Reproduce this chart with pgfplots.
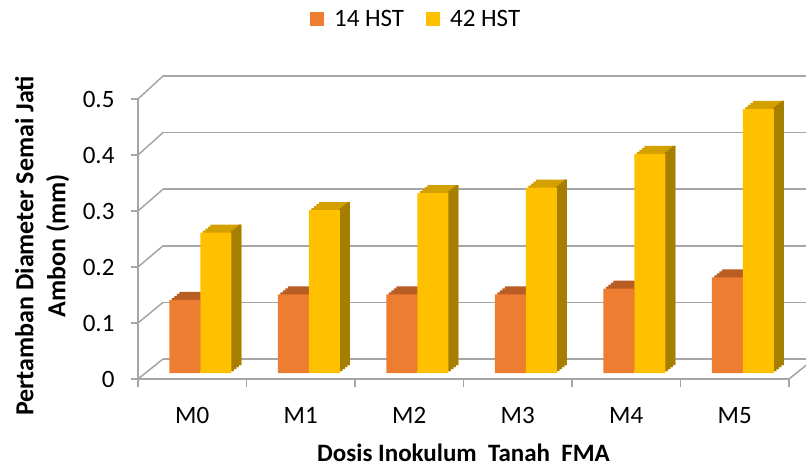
\documentclass[border=0pt]{standalone}
\usepackage{fontspec}
\setmainfont{Carlito}
\usepackage{pgfplots}
\usepackage{pgfplotstable}
\pgfplotsset{compat=1.18}
\definecolor{orF}{RGB}{237,125,49}
\definecolor{orT}{RGB}{184,93,36}
\definecolor{yeF}{RGB}{255,192,0}
\definecolor{yeT}{RGB}{212,160,0}
\definecolor{yeS}{RGB}{166,127,0}
\definecolor{gridc}{RGB}{166,166,166}

\pgfplotstableread{
x v
0 0.13
1 0.14
2 0.14
3 0.14
4 0.15
5 0.17
}\hstA
\pgfplotstableread{
x v
0 0.25
1 0.29
2 0.32
3 0.33
4 0.39
5 0.47
}\hstB

\begin{document}
\begin{tikzpicture}[font=\fontsize{25}{30}\selectfont, x=1pt, y=1pt]
\useasboundingbox (0,0) rectangle (806,467);
\clip (0,0) rectangle (806,467);

% back wall grid
\begin{axis}[at={(163pt,108pt)}, anchor=south west, scale only axis,
  width=651pt, height=283pt, xmin=-0.5, xmax=5.5, ymin=0, ymax=0.5,
  axis line style={draw=none}, xtick=\empty,
  ytick={0,0.1,0.2,0.3,0.4,0.5}, yticklabels={,,,,,},
  yticklabel style={opacity=0}, major tick length=0pt,
  ymajorgrids, grid style={gridc, line width=1.5pt}]
\end{axis}

% left wall and floor diagonals
\foreach \v in {0,0.1,0.2,0.3,0.4,0.5}
  \draw[gridc, line width=1.5pt] (138,{88+560*\v}) -- (163,{108+566*\v});
\draw[gridc, line width=1.5pt] (789,88) -- (814,108);

% front axis
\begin{axis}[at={(138pt,88pt)}, anchor=south west, scale only axis,
  width=651pt, height=280pt, xmin=-0.5, xmax=5.5, ymin=0, ymax=0.5,
  axis x line*=bottom, axis y line*=left,
  axis line style={gridc, line width=1.5pt},
  ytick={0,0.1,0.2,0.3,0.4,0.5}, yticklabels={0,0.1,0.2,0.3,0.4,0.5},
  xtick={0,1,2,3,4,5}, xticklabels={M0,M1,M2,M3,M4,M5},
  minor xtick={-0.5,0.5,1.5,2.5,3.5,4.5,5.5},
  major x tick style={draw=none},
  tick align=outside, major tick length=7pt, minor tick length=8pt,
  tick style={gridc, line width=1.5pt},
  tick label style={font=\fontsize{25}{30}\selectfont},
  yticklabel style={xshift=-13pt},
  xticklabel style={yshift=-18pt},
  xlabel={\textbf{Dosis Inokulum\ \ Tanah\ \ FMA}},
  ylabel={\textbf{Pertamban Diameter Semai Jati}\\\textbf{Ambon (mm)}},
  every axis x label/.style={at={(axis description cs:0.5,-0.264)}, anchor=center},
  every axis y label/.style={at={(axis description cs:-0.147,0.475)}, rotate=90, anchor=center, align=center, font=\fontsize{26}{32}\selectfont}]
\end{axis}

% bars
\begin{axis}[at={(146pt,94pt)}, anchor=south west, scale only axis,
  width=651pt, height=281pt, xmin=-0.5, xmax=5.5, ymin=0, ymax=0.5,
  hide axis, clip=false,
  legend style={at={(axis description cs:0.415,1.26)}, anchor=center,
    draw=none, fill=none, legend columns=2,
    /tikz/every even column/.append style={column sep=20pt},
    font=\fontsize{25}{30}\selectfont}]
\pgfplotsinvokeforeach{1,2,3,4}{
  \addplot[ybar, bar width=31pt, bar shift=-15.5pt, fill=orT, draw=none,
    forget plot, xshift=#1*2.5pt, yshift=#1*2pt] table[x=x,y=v]{\hstA};
}
\pgfplotsinvokeforeach{1,2,3,4}{
  \addplot[ybar, bar width=31pt, bar shift=15.5pt, fill=yeT, draw=none,
    forget plot, xshift=#1*2.5pt, yshift=#1*2pt] table[x=x,y=v]{\hstB};
}
\pgfplotsinvokeforeach{1,2,3,4}{
  \addplot[ybar, bar width=3pt, bar shift=29.5pt, fill=yeS, draw=none,
    forget plot, xshift=#1*2.5pt, yshift=#1*2pt] table[x=x,y=v]{\hstB};
}
\addplot[ybar, bar width=31pt, bar shift=-15.5pt, fill=orF, draw=none,
  legend image code/.code={\fill[orF] (0pt,-7pt) rectangle (14pt,7pt); \path (0pt,0pt) -- (22pt,0pt);}]
  table[x=x,y=v]{\hstA};
\addlegendentry{14 HST}
\addplot[ybar, bar width=31pt, bar shift=15.5pt, fill=yeF, draw=none,
  legend image code/.code={\fill[yeF] (0pt,-7pt) rectangle (14pt,7pt); \path (0pt,0pt) -- (22pt,0pt);}]
  table[x=x,y=v]{\hstB};
\addlegendentry{42 HST}
\end{axis}
\end{tikzpicture}
\end{document}
